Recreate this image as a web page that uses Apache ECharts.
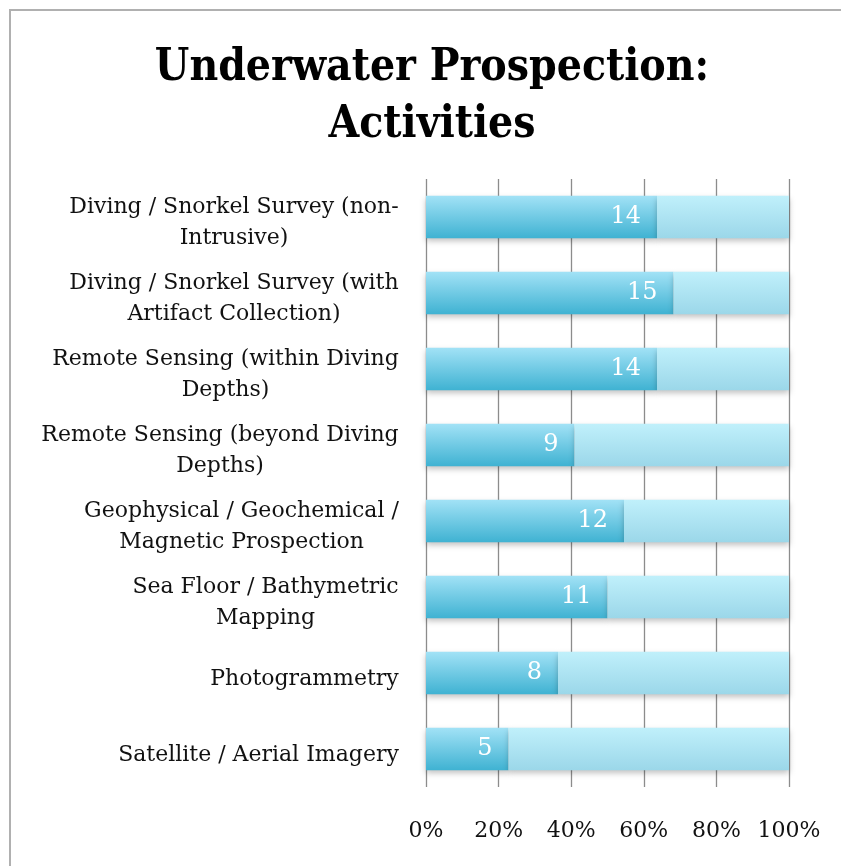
<!DOCTYPE html>
<html>
<head>
<meta charset="utf-8">
<style>
  html, body { margin: 0; padding: 0; background: #ffffff; }
  #chart { width: 841px; height: 866px; }
</style>
<script src="https://cdn.jsdelivr.net/npm/echarts@6/dist/echarts.min.js"></script>
</head>
<body>
<div id="chart"></div>
<script>
// Activity categories, listed bottom to top as the category axis draws them
const categories = [
  'Satellite / Aerial Imagery',
  'Photogrammetry',
  'Sea Floor / Bathymetric\nMapping',
  'Geophysical / Geochemical /\nMagnetic Prospection',
  'Remote Sensing (beyond Diving\nDepths)',
  'Remote Sensing (within Diving\nDepths)',
  'Diving / Snorkel Survey (with\nArtifact Collection)',
  'Diving / Snorkel Survey (non-\nIntrusive)'
];
// Number of projects reporting each activity
const yesCounts = [5, 8, 11, 12, 9, 14, 15, 14];
// Remaining projects out of the total surveyed
const noCounts = [17, 14, 11, 10, 13, 8, 7, 8];
const xTickLabels = ['0%', '20%', '40%', '60%', '80%', '100%'];

// Convert counts to shares of the total so the bars stack to 100%
const totals = yesCounts.map((v, i) => v + noCounts[i]);
const yesShare = yesCounts.map((v, i) => ({ value: v / totals[i] * 100, count: v }));
const noShare = noCounts.map((v, i) => v / totals[i] * 100);

const serif = "'DejaVu Serif', serif";
const labelSize = 22;

// Each category label is a centred block whose right edge sits against the axis:
// measure the widest line of every label and give it a rich-text box of that width.
const measureCtx = document.createElement('canvas').getContext('2d');
measureCtx.font = labelSize + "px 'DejaVu Serif'";
const labelRich = {};
categories.forEach((c, i) => {
  const w = Math.max(...c.split('\n').map(s => measureCtx.measureText(s).width));
  labelRich['w' + i] = {
    width: Math.ceil(w) + 2,
    align: 'center',
    fontFamily: serif,
    fontSize: labelSize,
    lineHeight: 31,
    color: '#111111'
  };
});

const chart = echarts.init(document.getElementById('chart'));
chart.setOption({
  animation: false,
  backgroundColor: '#ffffff',
  graphic: [
    {
      type: 'rect',
      shape: { x: 10, y: 10, width: 900, height: 900 },
      style: { fill: 'none', stroke: '#b0b0b0', lineWidth: 2 },
      z: 100
    }
  ],
  title: {
    text: 'Underwater Prospection:\nActivities',
    left: 427,
    top: 35,
    textAlign: 'center',
    textStyle: {
      fontFamily: "'DejaVu Serif Condensed', 'DejaVu Serif', serif",
      fontWeight: 'bold',
      fontSize: 44,
      lineHeight: 57,
      color: '#000000'
    }
  },
  grid: { left: 426, right: 52, top: 179, bottom: 79 },
  xAxis: {
    type: 'value',
    min: 0,
    max: 100,
    interval: 20,
    axisLine: { show: false },
    axisTick: { show: false },
    splitLine: { show: true, lineStyle: { color: '#8c8c8c', width: 1.3 } },
    axisLabel: {
      formatter: (v) => xTickLabels[Math.round(v / 20)],
      fontFamily: serif,
      fontSize: 22,
      color: '#111111',
      margin: 33
    }
  },
  yAxis: {
    type: 'category',
    data: categories,
    axisLine: { show: false },
    axisTick: { show: false },
    axisLabel: {
      align: 'right',
      margin: 26,
      padding: [12, 0, 0, 0],
      formatter: (value, index) =>
        value.split('\n').map(s => '{w' + index + '|' + s + '}').join('\n'),
      rich: labelRich
    }
  },
  series: [
    {
      name: 'Yes',
      type: 'bar',
      stack: 'total',
      barWidth: '56%',
      data: yesShare,
      itemStyle: {
        color: new echarts.graphic.LinearGradient(0, 0, 0, 1, [
          { offset: 0, color: '#a2e2f6' },
          { offset: 1, color: '#3fb2d2' }
        ]),
        shadowColor: 'rgba(0,0,0,0.25)',
        shadowBlur: 6,
        shadowOffsetY: 3
      },
      label: {
        show: true,
        position: 'insideRight',
        distance: 16,
        formatter: (p) => String(p.data.count),
        fontFamily: serif,
        fontSize: 24,
        color: '#ffffff'
      }
    },
    {
      name: 'No',
      type: 'bar',
      stack: 'total',
      barWidth: '56%',
      data: noShare,
      itemStyle: {
        color: new echarts.graphic.LinearGradient(0, 0, 0, 1, [
          { offset: 0, color: '#c0f0fb' },
          { offset: 1, color: '#9bd7e9' }
        ]),
        shadowColor: 'rgba(0,0,0,0.25)',
        shadowBlur: 6,
        shadowOffsetY: 3
      }
    }
  ]
});
</script>
</body>
</html>
